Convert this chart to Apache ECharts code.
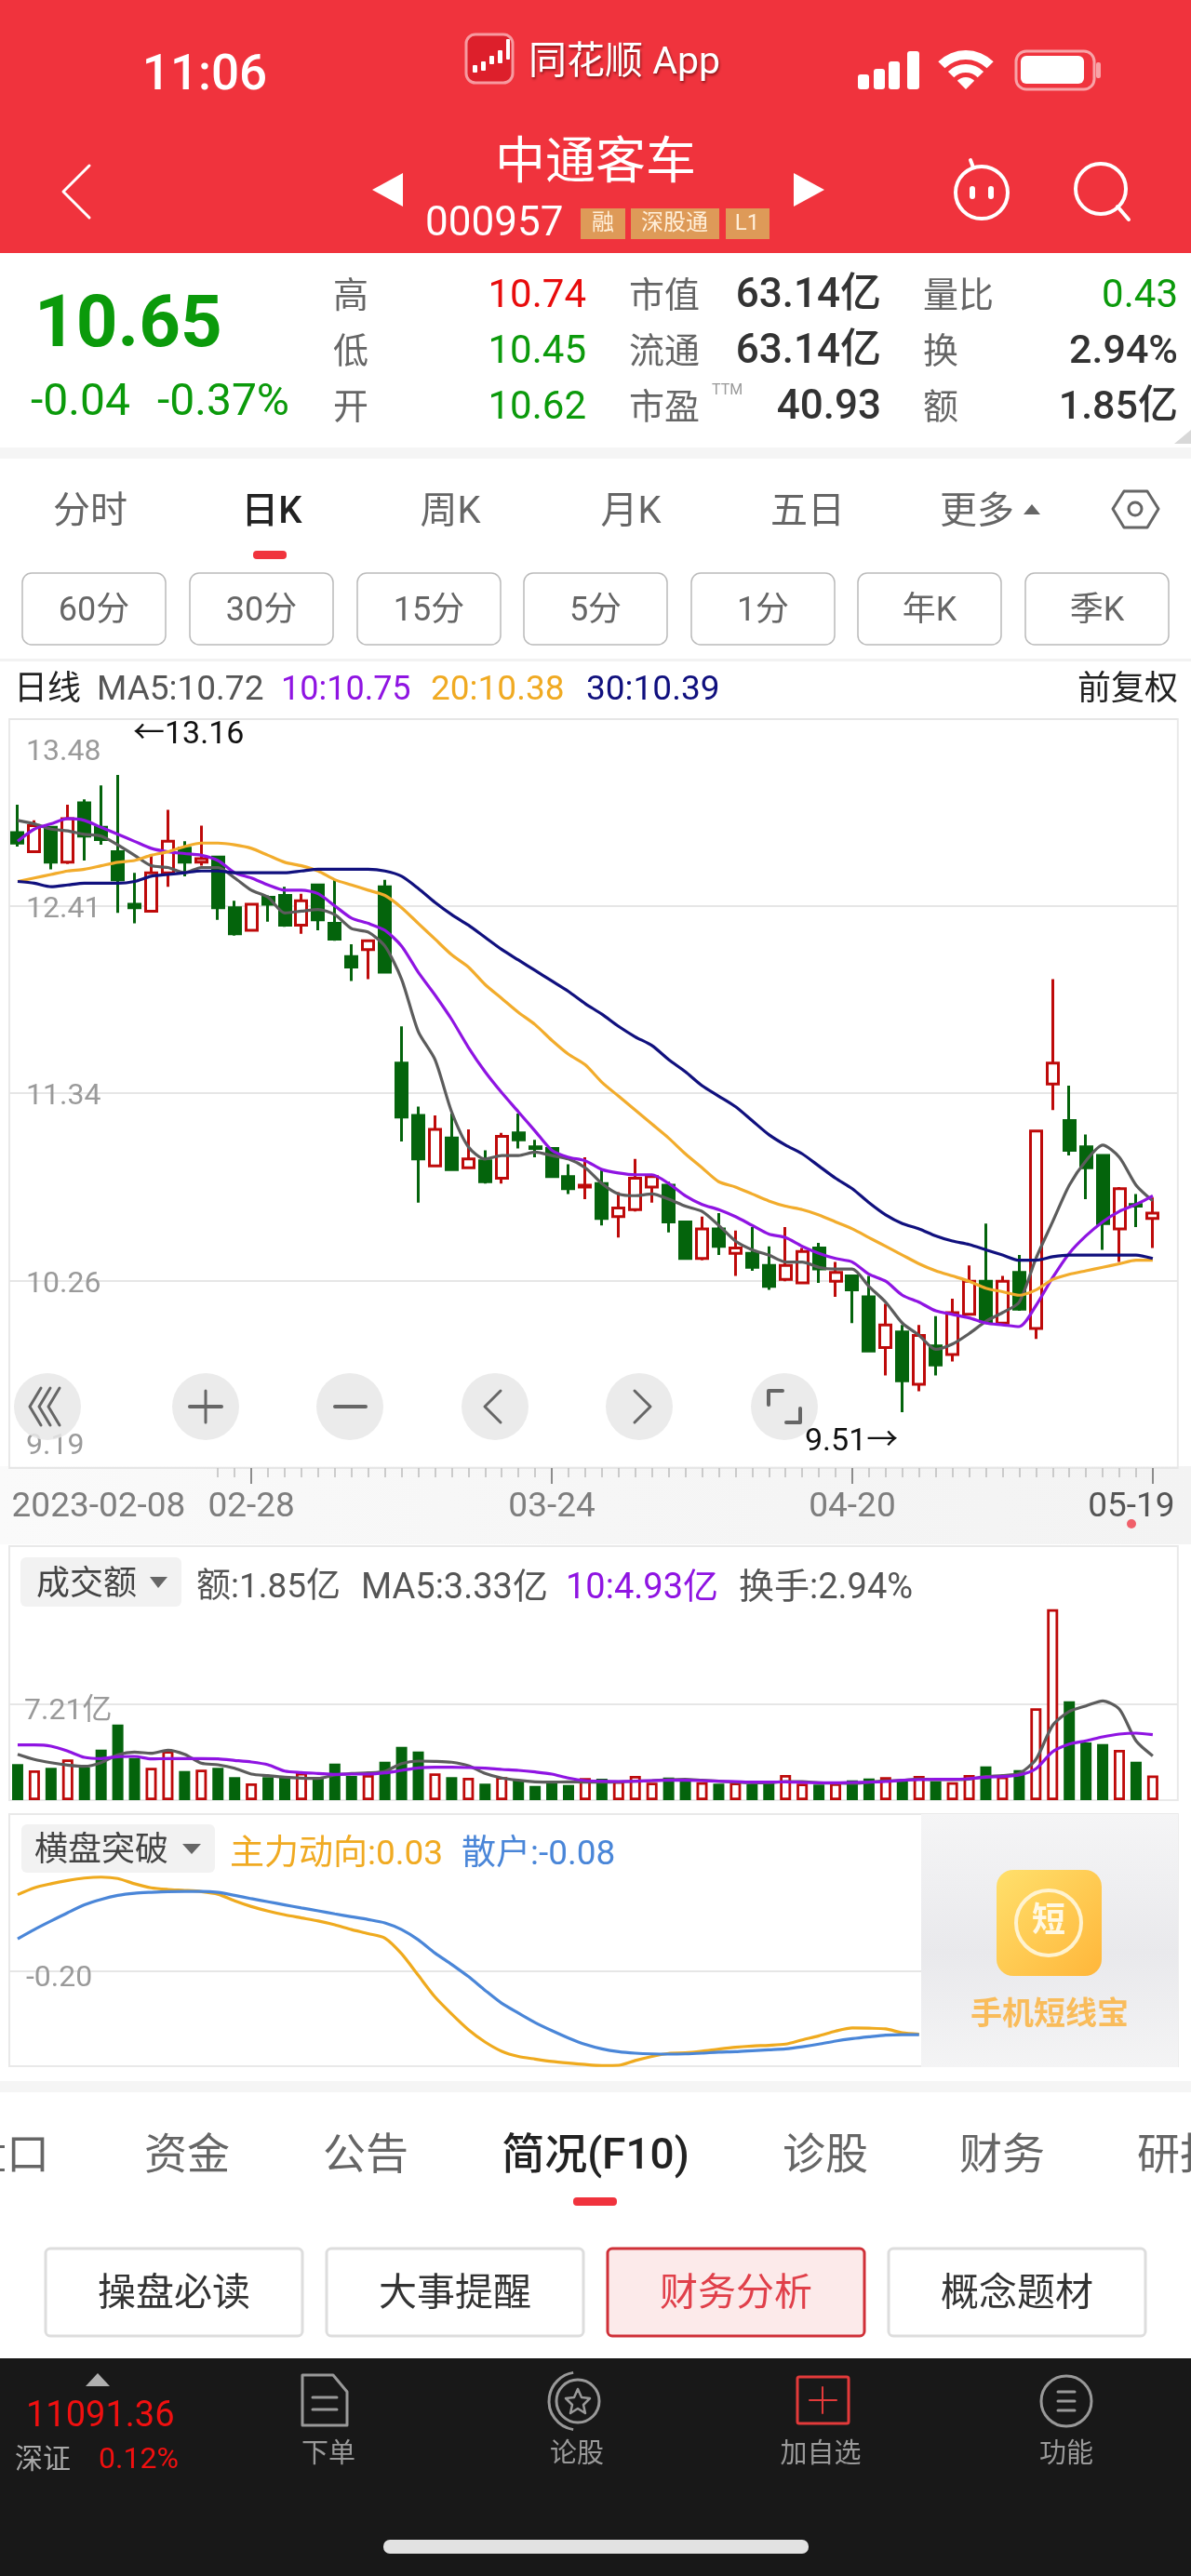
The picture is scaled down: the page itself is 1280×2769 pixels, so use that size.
<!DOCTYPE html>
<html>

<head>
    <meta charset="utf-8" />
    <title>中通客车</title>
    <script src="https://cdn.jsdelivr.net/npm/echarts@6.0.0/dist/echarts.min.js"></script>
    <style>
        html, body { margin: 0; padding: 0; background: #fff; overflow: hidden; }
    </style>
</head>

<body>
    <div id="main" style="width: 1280px;height:2769px;"></div>

    <script type="text/javascript">
        var dates = [
            '2023-02-08', '02-09', '02-10', '02-13', '02-14', '02-15', '02-16', '02-17', '02-20', '02-21', '02-22', '02-23', '02-24', '02-27',
            '02-28', '03-01', '03-02', '03-03', '03-06', '03-07', '03-08', '03-09', '03-10', '03-13', '03-14', '03-15', '03-16', '03-17',
            '03-20', '03-21', '03-22', '03-23', '03-24', '03-27', '03-28', '03-29', '03-30', '03-31', '04-03', '04-04', '04-06', '04-07',
            '04-10', '04-11', '04-12', '04-13', '04-14', '04-17', '04-18', '04-19', '04-20', '04-21', '04-24', '04-25', '04-26', '04-27',
            '04-28', '05-04', '05-05', '05-08', '05-09', '05-10', '05-11', '05-12', '05-15', '05-16', '05-17', '05-18', '05-19', ''
        ];

        // open, close, low, high
        var candles = [
            [12.83, 12.77, 12.75, 12.99], [12.72, 12.87, 12.72, 12.90], [12.86, 12.66, 12.62, 12.86], [12.66, 12.91, 12.65, 12.99],
            [13.00, 12.81, 12.67, 13.02], [12.86, 12.79, 12.76, 13.10], [12.72, 12.56, 12.37, 13.16], [12.42, 12.40, 12.31, 12.60],
            [12.38, 12.60, 12.38, 12.70], [12.60, 12.78, 12.52, 12.96], [12.74, 12.66, 12.58, 12.78], [12.66, 12.68, 12.64, 12.87],
            [12.69, 12.40, 12.33, 12.69], [12.40, 12.25, 12.24, 12.44], [12.27, 12.42, 12.27, 12.42], [12.46, 12.42, 12.32, 12.47],
            [12.47, 12.30, 12.29, 12.52], [12.30, 12.44, 12.25, 12.48], [12.53, 12.33, 12.27, 12.53], [12.31, 12.22, 12.21, 12.56],
            [12.12, 12.06, 11.98, 12.19], [12.16, 12.21, 11.99, 12.21], [12.52, 12.03, 12.03, 12.56], [11.51, 11.20, 11.06, 11.72],
            [11.21, 10.96, 10.71, 11.26], [10.92, 11.13, 10.92, 11.21], [11.08, 10.90, 10.90, 11.22], [10.91, 10.96, 10.91, 11.13],
            [10.95, 10.83, 10.82, 11.01], [10.85, 11.09, 10.82, 11.11], [11.11, 11.07, 11.02, 11.22], [11.03, 11.02, 10.97, 11.07],
            [11.02, 10.86, 10.86, 11.02], [10.86, 10.79, 10.76, 10.93], [10.80, 10.81, 10.73, 10.97], [10.82, 10.62, 10.58, 10.90],
            [10.63, 10.68, 10.51, 10.77], [10.67, 10.85, 10.66, 10.96], [10.80, 10.86, 10.71, 10.87], [10.81, 10.60, 10.54, 10.83],
            [10.60, 10.39, 10.39, 10.60], [10.39, 10.56, 10.38, 10.63], [10.56, 10.46, 10.41, 10.65], [10.42, 10.45, 10.29, 10.55],
            [10.42, 10.34, 10.32, 10.57], [10.35, 10.23, 10.21, 10.46], [10.27, 10.35, 10.26, 10.57], [10.25, 10.43, 10.25, 10.45],
            [10.45, 10.33, 10.25, 10.48], [10.26, 10.31, 10.17, 10.37], [10.29, 10.21, 10.02, 10.29], [10.17, 9.86, 9.86, 10.29],
            [9.88, 10.01, 9.72, 10.13], [9.97, 9.69, 9.51, 10.01], [9.67, 9.95, 9.63, 10.01], [9.89, 9.78, 9.72, 10.06],
            [9.84, 10.08, 9.80, 10.16], [10.07, 10.26, 10.07, 10.35], [10.26, 10.03, 10.03, 10.59], [10.02, 10.26, 10.02, 10.29],
            [10.31, 10.10, 10.09, 10.41], [9.99, 11.12, 9.93, 11.12], [11.39, 11.51, 11.24, 11.99], [11.18, 11.01, 10.98, 11.38],
            [11.03, 10.91, 10.73, 11.10], [10.98, 10.59, 10.44, 10.98], [10.56, 10.79, 10.37, 10.80], [10.70, 10.69, 10.57, 10.76],
            [10.62, 10.65, 10.45, 10.74]
        ];

        var ma5 = [12.90, 12.88, 12.85, 12.84, 12.82, 12.81, 12.76, 12.70, 12.64, 12.63, 12.60, 12.63, 12.63, 12.57, 12.50, 12.46, 12.37, 12.38, 12.39, 12.36, 12.28, 12.26, 12.18, 11.99, 11.69, 11.53, 11.23, 11.03, 10.96, 10.98, 10.98, 11.00, 10.98, 10.96, 10.91, 10.82, 10.76, 10.75, 10.76, 10.73, 10.69, 10.66, 10.58, 10.49, 10.44, 10.41, 10.37, 10.37, 10.34, 10.33, 10.33, 10.23, 10.14, 10.02, 9.95, 9.87, 9.90, 9.96, 10.03, 10.08, 10.14, 10.39, 10.60, 10.81, 10.95, 11.04, 10.97, 10.81, 10.72];
        var ma10 = [12.78, 12.85, 12.88, 12.91, 12.90, 12.86, 12.82, 12.78, 12.74, 12.72, 12.71, 12.70, 12.67, 12.60, 12.57, 12.53, 12.50, 12.50, 12.48, 12.41, 12.34, 12.31, 12.27, 12.18, 12.03, 11.90, 11.76, 11.60, 11.46, 11.34, 11.23, 11.12, 11.01, 10.97, 10.95, 10.90, 10.88, 10.87, 10.87, 10.82, 10.75, 10.70, 10.67, 10.63, 10.58, 10.53, 10.51, 10.46, 10.42, 10.39, 10.37, 10.30, 10.26, 10.18, 10.14, 10.09, 10.07, 10.05, 10.02, 10.01, 10.00, 10.12, 10.28, 10.42, 10.52, 10.60, 10.66, 10.70, 10.75];
        var ma20 = [12.55, 12.57, 12.59, 12.61, 12.62, 12.64, 12.66, 12.67, 12.70, 12.72, 12.75, 12.77, 12.77, 12.76, 12.74, 12.70, 12.66, 12.64, 12.61, 12.56, 12.53, 12.50, 12.47, 12.40, 12.31, 12.22, 12.13, 12.06, 11.96, 11.88, 11.80, 11.73, 11.64, 11.56, 11.50, 11.40, 11.32, 11.24, 11.16, 11.08, 10.99, 10.91, 10.83, 10.80, 10.76, 10.72, 10.69, 10.67, 10.64, 10.60, 10.56, 10.51, 10.46, 10.41, 10.36, 10.32, 10.29, 10.26, 10.22, 10.20, 10.18, 10.21, 10.27, 10.30, 10.32, 10.34, 10.36, 10.38, 10.38];
        var ma30 = [12.55, 12.54, 12.52, 12.53, 12.54, 12.54, 12.54, 12.55, 12.58, 12.59, 12.60, 12.61, 12.61, 12.60, 12.60, 12.60, 12.60, 12.61, 12.62, 12.62, 12.62, 12.62, 12.61, 12.58, 12.51, 12.43, 12.36, 12.30, 12.23, 12.16, 12.10, 12.04, 11.98, 11.92, 11.85, 11.79, 11.72, 11.66, 11.61, 11.53, 11.46, 11.38, 11.32, 11.26, 11.18, 11.10, 11.04, 10.99, 10.92, 10.85, 10.79, 10.71, 10.64, 10.59, 10.56, 10.52, 10.49, 10.47, 10.44, 10.41, 10.38, 10.38, 10.40, 10.41, 10.41, 10.41, 10.41, 10.41, 10.39];

        var amount = [2.71, 2.24, 2.43, 3.06, 2.47, 3.80, 5.69, 3.17, 2.43, 3.69, 2.19, 2.29, 2.43, 1.73, 1.26, 1.73, 1.77, 2.05, 1.66, 2.75, 1.82, 1.89, 2.89, 4.01, 3.66, 2.01, 1.73, 1.68, 1.24, 1.73, 1.49, 1.07, 1.47, 1.14, 1.66, 1.61, 1.42, 1.82, 1.31, 1.70, 1.49, 1.35, 1.24, 1.31, 1.19, 1.31, 1.89, 1.24, 1.17, 1.26, 1.49, 1.63, 1.73, 1.42, 1.82, 1.42, 1.35, 1.89, 2.54, 1.77, 2.26, 6.91, 14.37, 7.44, 4.34, 4.22, 3.78, 2.89, 1.85];
        var amountMa5 = [3.45, 3.06, 2.82, 2.64, 2.54, 2.82, 3.41, 3.62, 3.52, 3.76, 3.45, 2.78, 2.66, 2.40, 1.96, 1.84, 1.73, 1.66, 1.63, 1.89, 2.01, 2.05, 2.17, 2.75, 2.94, 2.92, 2.85, 2.59, 2.01, 1.66, 1.49, 1.38, 1.35, 1.38, 1.35, 1.35, 1.38, 1.42, 1.47, 1.54, 1.56, 1.49, 1.42, 1.35, 1.31, 1.31, 1.40, 1.40, 1.31, 1.28, 1.26, 1.35, 1.45, 1.49, 1.59, 1.54, 1.54, 1.59, 1.77, 1.84, 2.01, 3.06, 5.62, 6.67, 7.09, 7.47, 6.84, 4.46, 3.33];
        var amountMa10 = [4.15, 4.15, 4.06, 3.69, 3.22, 3.13, 3.27, 3.29, 3.10, 3.13, 3.13, 3.13, 3.10, 2.99, 2.87, 2.66, 2.19, 2.08, 2.01, 1.94, 1.96, 1.96, 2.05, 2.24, 2.43, 2.47, 2.47, 2.45, 2.40, 2.31, 2.24, 2.12, 1.96, 1.66, 1.47, 1.42, 1.40, 1.42, 1.47, 1.49, 1.49, 1.47, 1.42, 1.40, 1.35, 1.35, 1.38, 1.33, 1.31, 1.31, 1.33, 1.35, 1.40, 1.49, 1.54, 1.56, 1.56, 1.61, 1.73, 1.77, 1.89, 2.36, 3.64, 4.22, 4.46, 4.76, 4.97, 5.04, 4.93];

        // the rest of these two lines is hidden behind the ad panel
        var mainForce = [0.123, 0.152, 0.169, 0.183, 0.193, 0.197, 0.191, 0.169, 0.152, 0.145, 0.141, 0.136, 0.125, 0.097, 0.073, 0.054, 0.038, 0.025, 0.012, -0.004, -0.024, -0.041, -0.06, -0.126, -0.217, -0.308, -0.38, -0.446, -0.498, -0.537, -0.559, -0.57, -0.58, -0.587, -0.593, -0.597, -0.596, -0.576, -0.559, -0.546, -0.544, -0.537, -0.528, -0.52, -0.515, -0.512, -0.507, -0.489, -0.472, -0.452, -0.439, -0.44, -0.443, -0.459, -0.465];
        var retail = [-0.063, -0.024, 0.012, 0.047, 0.08, 0.103, 0.12, 0.129, 0.133, 0.136, 0.137, 0.137, 0.133, 0.12, 0.106, 0.093, 0.08, 0.067, 0.055, 0.042, 0.03, 0.018, 0.004, -0.024, -0.067, -0.123, -0.171, -0.222, -0.28, -0.335, -0.376, -0.416, -0.45, -0.481, -0.508, -0.527, -0.539, -0.545, -0.548, -0.549, -0.548, -0.545, -0.541, -0.539, -0.535, -0.531, -0.527, -0.518, -0.507, -0.494, -0.484, -0.476, -0.469, -0.467, -0.467];

        var priceTicks = [9.19, 10.26, 11.34, 12.41, 13.48];
        var amountTicks = [7.21];
        var signalTicks = [-0.2];
        var dateLabels = [0, 14, 32, 50, 68];
        var dateMajorTicks = [14, 32, 50, 68];
        var firstMinorTick = 12;
        var lastCandle = 68;

        var RED = '#BE0A0A', GREEN = '#04640C';
        var C_MA5 = '#5C5C5C', C_MA10 = '#8F14E2', C_MA20 = '#F2AC2C', C_MA30 = '#10107E';
        var HEAD = '#F0333D';
        var FONT = 'Roboto, "Noto Sans CJK SC", sans-serif';

        // small helpers for the app chrome around the chart
        var chrome = [];
        function txt(text, x, y, size, color, align, weight, extra) {
            var style = {
                text: text, x: x, y: y + Math.round(size * 0.09), fill: color,
                fontSize: size, fontFamily: FONT, fontWeight: weight || 400,
                align: align || 'left', verticalAlign: 'middle'
            };
            for (var k in (extra || {})) style[k] = extra[k];
            chrome.push({ type: 'text', z: 20, silent: true, style: style });
        }
        function box(x1, y1, x2, y2, fill, r, stroke, lw, z) {
            chrome.push({
                type: 'rect', z: z === undefined ? 19 : z, silent: true,
                shape: { x: x1, y: y1, width: x2 - x1, height: y2 - y1, r: r || 0 },
                style: { fill: fill || 'none', stroke: stroke || 'none', lineWidth: lw || 0 }
            });
        }
        function poly(points, stroke, lw, z) {
            chrome.push({
                type: 'polyline', z: z || 21, silent: true,
                shape: { points: points },
                style: { fill: 'none', stroke: stroke, lineWidth: lw || 3, lineCap: 'round', lineJoin: 'round' }
            });
        }
        function tri(points, fill) {
            chrome.push({ type: 'polygon', z: 21, silent: true, shape: { points: points }, style: { fill: fill } });
        }
        function dot(cx, cy, r, fill, stroke, lw, z) {
            chrome.push({
                type: 'circle', z: z || 20, silent: true,
                shape: { cx: cx, cy: cy, r: r },
                style: { fill: fill || 'none', stroke: stroke || 'none', lineWidth: lw || 0 }
            });
        }
        function wave(cx, cy, r0, r) {
            chrome.push({
                type: 'sector', z: 21, silent: true,
                shape: { cx: cx, cy: cy, r0: r0, r: r, startAngle: -Math.PI * 0.75, endAngle: -Math.PI * 0.25 },
                style: { fill: '#fff' }
            });
        }

        // status + title bar
        box(0, 0, 1280, 272, HEAD, 0, null, 0, 1);
        txt('11:06', 220, 78, 53, '#fff', 'center', 500);
        box(501, 37, 551, 89, '#DD1F2B', 10, '#F79AA0', 3);
        [[508, 70, 5, 8], [517, 66, 5, 10], [526, 60, 5, 9], [535, 54, 5, 14], [544, 42, 4, 22]].forEach(function (c) {
            box(c[0], c[1], c[0] + c[2], c[1] + c[3], '#fff', 1, null, 0, 20);
        });
        txt('同花顺 App', 568, 65, 41, '#fff', 'left', 400, { textShadowColor: 'rgba(60,0,0,.6)', textShadowBlur: 3, textShadowOffsetX: 1, textShadowOffsetY: 2 });
        box(922, 80, 934, 96, '#fff', 3);
        box(939, 74, 951, 96, '#fff', 3);
        box(955, 66, 967, 96, '#fff', 3);
        box(975, 55, 988, 96, '#fff', 3);
        wave(1038, 96, 32, 42);
        wave(1038, 96, 18, 27);
        wave(1038, 96, 0, 13);
        box(1092, 55, 1176, 96, 'none', 11, 'rgba(255,255,255,.55)', 3);
        box(1097, 60, 1165, 90, '#fff', 6);
        box(1178, 67, 1183, 84, 'rgba(255,255,255,.55)', 2);
        txt('中通客车', 640, 173, 54, '#fff', 'center');
        poly([[96, 178], [68, 206], [96, 234]], '#fff', 3);
        tri([[433, 186], [400, 204], [433, 222]], '#fff');
        tri([[853, 186], [886, 204], [853, 222]], '#fff');
        txt('000957', 457, 238, 44, '#fff');
        box(624, 224, 672, 257, '#DE9A58');
        box(678, 224, 773, 257, '#DE9A58');
        box(780, 224, 827, 257, '#DE9A58');
        txt('融', 648, 239, 24, '#FFEFD9', 'center');
        txt('深股通', 725, 239, 24, '#FFEFD9', 'center');
        txt('L1', 803, 239, 24, '#FFEFD9', 'center');
        dot(1055, 207, 28, 'none', '#fff', 4, 21);
        poly([[1046, 180], [1043, 172]], '#fff', 4);
        box(1042, 200, 1048, 214, '#fff', 3, null, 0, 22);
        box(1062, 200, 1068, 214, '#fff', 3, null, 0, 22);
        dot(1183, 203, 27, 'none', '#fff', 4, 21);
        poly([[1201, 222], [1213, 236]], '#fff', 4);

        // quote block
        txt('10.65', 37, 345, 78, '#0B9A0B', 'left', 700);
        txt('-0.04', 33, 430, 48, '#0B9A0B');
        txt('-0.37%', 169, 430, 48, '#0B9A0B');
        var quoteRows = [315, 375, 435];
        ['高', '低', '开'].forEach(function (t, i) { txt(t, 358, quoteRows[i] + 2, 38, '#666'); });
        txt('10.74', 630, quoteRows[0], 42, '#E80C0C', 'right');
        txt('10.45', 630, quoteRows[1], 42, '#0B9A0B', 'right');
        txt('10.62', 630, quoteRows[2], 42, '#0B9A0B', 'right');
        ['市值', '流通', '市盈'].forEach(function (t, i) { txt(t, 676, quoteRows[i] + 2, 38, '#666'); });
        txt('TTM', 765, 419, 16, '#999');
        ['63.14亿', '63.14亿', '40.93'].forEach(function (t, i) { txt(t, 947, quoteRows[i], 44, '#333', 'right', 500); });
        ['量比', '换', '额'].forEach(function (t, i) { txt(t, 992, quoteRows[i] + 2, 38, '#666'); });
        txt('0.43', 1266, quoteRows[0], 42, '#0B9A0B', 'right');
        txt('2.94%', 1266, quoteRows[1], 43, '#333', 'right', 500);
        txt('1.85亿', 1266, quoteRows[2], 43, '#333', 'right', 500);
        tri([[1280, 462], [1262, 477], [1280, 477]], '#D8D8D8');
        box(0, 481, 1280, 493, '#F5F5F5');

        // period tabs
        [['分时', 97], ['日K', 292], ['周K', 484], ['月K', 678], ['五日', 868], ['更多', 1050]].forEach(function (t) {
            var on = t[0] === '日K';
            txt(t[0], t[1], 548, 40, on ? '#222' : '#666', 'center', on ? 500 : 400);
        });
        tri([[1100, 553], [1109, 542], [1118, 553]], '#666');
        poly([[1208, 528], [1233, 528], [1245, 547], [1233, 567], [1208, 567], [1196, 547], [1208, 528]], '#666', 3);
        dot(1220, 547, 7, 'none', '#666', 3, 21);
        box(272, 592, 308, 601, HEAD, 4);
        [['60分', 24], ['30分', 204], ['15分', 384], ['5分', 563], ['1分', 743], ['年K', 922], ['季K', 1102]].forEach(function (t) {
            box(t[1], 616, t[1] + 154, 693, '#fff', 10, '#BBB', 1.5);
            txt(t[0], t[1] + 77, 655, 36, '#666', 'center');
        });
        box(0, 708, 1280, 711, '#F2F2F2');

        // legend row
        txt('日线', 15, 740, 36, '#222');
        txt('MA5:10.72', 104, 740, 37, '#555');
        txt('10:10.75', 302, 740, 36, C_MA10);
        txt('20:10.38', 463, 740, 37, '#F0AA22');
        txt('30:10.39', 630, 740, 37, C_MA30);
        txt('前复权', 1266, 740, 36, '#222', 'right');

        // price panel notes and the round control buttons
        txt('←13.16', 143, 787, 34, '#111');
        txt('9.51→', 865, 1547, 34, '#111');
        [51, 221, 376, 532, 687, 843].forEach(function (x) { dot(x, 1512, 36, 'rgba(232,232,232,.85)', null, 0, 18); });
        poly([[44, 1492], [32, 1512], [44, 1532]], '#666', 3);
        poly([[54, 1492], [42, 1512], [54, 1532]], '#666', 3);
        poly([[64, 1492], [52, 1512], [64, 1532]], '#666', 3);
        poly([[204, 1512], [238, 1512]], '#666', 4);
        poly([[221, 1495], [221, 1529]], '#666', 3);
        poly([[360, 1512], [393, 1512]], '#666', 4);
        poly([[538, 1495], [521, 1512], [538, 1529]], '#666', 3);
        poly([[682, 1495], [699, 1512], [682, 1529]], '#666', 3);
        poly([[826, 1510], [826, 1495], [841, 1495]], '#666', 4);
        poly([[860, 1514], [860, 1529], [845, 1529]], '#666', 4);

        // date strip background
        chrome.push({
            type: 'rect', z: -1, silent: true,
            shape: { x: 0, y: 1576, width: 1280, height: 84 },
            style: { fill: new echarts.graphic.LinearGradient(0, 0, 1, 0, [
                { offset: 0, color: '#FAFAFA' }, { offset: 0.5, color: '#F6F6F6' }, { offset: 1, color: '#F3F3F3' }
            ]) }
        });
        dot(1216, 1638, 5, '#F0606A', null, 0, 21);

        // amount panel header
        box(22, 1674, 195, 1727, '#F2F2F2', 6);
        txt('成交额', 39, 1702, 36, '#444');
        tri([[161, 1695], [180, 1695], [170, 1707]], '#666');
        txt('额:1.85亿', 211, 1705, 37, '#555');
        txt('MA5:3.33亿', 388, 1705, 38, '#555');
        txt('10:4.93亿', 608, 1705, 38, C_MA10);
        txt('换手:2.94%', 794, 1705, 38, '#555');

        // signal panel header
        box(23, 1961, 231, 2013, '#F2F2F2', 6);
        txt('横盘突破', 37, 1988, 36, '#444');
        tri([[196, 1982], [216, 1982], [206, 1993]], '#666');
        txt('主力动向:0.03', 247, 1992, 37, '#F0AA22');
        txt('散户:-0.08', 496, 1992, 37, '#4A86D8');

        // ad panel that covers the right of the signal panel
        chrome.push({
            type: 'rect', z: 18, silent: true,
            shape: { x: 990, y: 1950, width: 276, height: 272 },
            style: { fill: new echarts.graphic.LinearGradient(0, 0, 0, 1, [
                { offset: 0, color: '#F5F5F6' }, { offset: 0.55, color: '#E9E9EC' }, { offset: 1, color: '#F4F4F5' }
            ]) }
        });
        chrome.push({
            type: 'rect', z: 19, silent: true,
            shape: { x: 1071, y: 2010, width: 113, height: 114, r: 18 },
            style: { fill: new echarts.graphic.LinearGradient(0, 0, 1, 1, [
                { offset: 0, color: '#FFE06C' }, { offset: 1, color: '#FFB63A' }
            ]) }
        });
        dot(1127, 2067, 35, 'none', '#FFF3D0', 4, 20);
        txt('短', 1127, 2064, 36, '#FFF8E4', 'center', 700);
        txt('手机短线宝', 1128, 2164, 34, '#F9BC5B', 'center', 700);

        // lower tabs and buttons
        box(0, 2237, 1280, 2249, '#F5F5F5');
        txt('盘口', 53, 2315, 46, '#666', 'right');
        [['资金', 201], ['公告', 393], ['诊股', 887], ['财务', 1077], ['研报', 1268]].forEach(function (t) {
            txt(t[0], t[1], 2315, 46, '#666', 'center');
        });
        txt('简况(F10)', 640, 2315, 46, '#222', 'center', 500);
        box(616, 2362, 663, 2371, HEAD, 4);
        [['操盘必读', 49], ['大事提醒', 351], ['财务分析', 653], ['概念题材', 955]].forEach(function (t) {
            var on = t[0] === '财务分析';
            box(t[1], 2417, t[1] + 276, 2511, on ? '#FCEAEA' : '#fff', 5, on ? '#CF3038' : '#DDD', 3);
            txt(t[0], t[1] + 138, 2464, 41, on ? '#E0404A' : '#333', 'center');
        });

        // bottom bar
        box(0, 2535, 1280, 2769, '#181818', 0, null, 0, 1);
        tri([[92, 2565], [105, 2551], [118, 2565]], '#B0B0B0');
        txt('11091.36', 28, 2595, 38, '#F01010');
        txt('深证', 16, 2642, 30, '#A8A8A8');
        txt('0.12%', 106, 2642, 32, '#F01010');
        poly([[325, 2553], [358, 2553], [373, 2571], [373, 2607], [325, 2607], [325, 2553]], '#999', 3);
        poly([[336, 2577], [362, 2577]], '#999', 3);
        poly([[336, 2590], [362, 2590]], '#999', 3);
        dot(621, 2581, 23, 'none', '#999', 3, 21);
        chrome.push({
            type: 'arc', z: 21, silent: true,
            shape: { cx: 621, cy: 2581, r: 31, startAngle: Math.PI * 0.55, endAngle: Math.PI * 1.45, clockwise: true },
            style: { fill: 'none', stroke: '#999', lineWidth: 3 }
        });
        poly([[621, 2568], [625, 2577], [634, 2578], [627, 2585], [629, 2594], [621, 2589], [613, 2594], [615, 2585], [608, 2578], [617, 2577], [621, 2568]], '#999', 2.5);
        box(857, 2555, 912, 2605, 'none', 2, '#E33A3A', 3);
        poly([[870, 2580], [899, 2580]], '#E33A3A', 2);
        poly([[884, 2566], [884, 2594]], '#E33A3A', 2);
        dot(1146, 2581, 27, 'none', '#999', 3, 21);
        poly([[1137, 2571], [1155, 2571]], '#999', 3);
        poly([[1137, 2581], [1155, 2581]], '#999', 3);
        poly([[1137, 2591], [1155, 2591]], '#999', 3);
        [['下单', 353], ['论股', 620], ['加自选', 882], ['功能', 1146]].forEach(function (t) {
            txt(t[0], t[1], 2637, 29, '#999', 'center');
        });
        box(412, 2730, 869, 2745, '#E2E2E2', 7, null, 0, 21);

        function isUp(i) {
            return candles[i][1] >= candles[i][0];
        }

        var amountBars = amount.map(function (v, i) {
            return {
                value: v,
                itemStyle: isUp(i)
                    ? { color: '#fff', borderColor: RED, borderWidth: 2.8 }
                    : { color: GREEN, borderColor: GREEN, borderWidth: 0 }
            };
        });

        function priceLabel(v) {
            if (v === priceTicks[priceTicks.length - 1]) return '{top|' + v.toFixed(2) + '}';
            if (v === priceTicks[0]) return '{bottom|' + v.toFixed(2) + '}';
            return v.toFixed(2);
        }

        function dateLabel(v, i) {
            if (i === 0) return '{first|' + v + '}';
            if (i === lastCandle) return '{last|' + v + '}';
            return v;
        }

        function lineSeries(name, data, color, xIndex, yIndex, width) {
            return {
                name: name, type: 'line', data: data, xAxisIndex: xIndex, yAxisIndex: yIndex,
                symbol: 'none', smooth: 0.25, silent: true, z: 5,
                lineStyle: { color: color, width: width || 3.2 }
            };
        }

        // bands are 17.94 px wide, 70 of them fill each panel; the last one stays empty
        var panel = { left: 10, width: 1255.8 };
        function grid(top, height) {
            return {
                show: true, left: panel.left, width: panel.width, top: top, height: height,
                borderColor: '#E9E9E9', borderWidth: 2, backgroundColor: 'transparent'
            };
        }
        function hiddenX(gridIndex) {
            return {
                type: 'category', gridIndex: gridIndex, data: dates,
                axisLine: { show: false }, axisTick: { show: false }, axisLabel: { show: false }, splitLine: { show: false }
            };
        }
        function valueY(gridIndex, min, max, ticks, formatter, margin, rich) {
            return {
                type: 'value', gridIndex: gridIndex, min: min, max: max, scale: true,
                axisLine: { show: false },
                axisTick: { show: false, customValues: ticks },
                splitLine: { show: true, lineStyle: { color: '#E6E6E6', width: 2 } },
                axisLabel: {
                    inside: true, margin: margin || 18, customValues: ticks, formatter: formatter,
                    color: '#9A9A9A', fontSize: 32, fontFamily: FONT, rich: rich, padding: [8, 0, 0, 0]
                }
            };
        }
        var lowLabel = { low: { color: '#9A9A9A', fontSize: 32, fontFamily: FONT, padding: [8, 0, 0, 0] } };

        var myChart = echarts.init(document.getElementById('main'));

        var option = {
            animation: false,
            backgroundColor: '#fff',
            graphic: chrome,
            grid: [grid(773, 805), grid(1662, 273), grid(1950, 271)],
            xAxis: [
                {
                    // minor ticks of the date strip
                    type: 'category', gridIndex: 0, data: dates, position: 'bottom',
                    axisLine: { show: false },
                    axisTick: {
                        show: true, alignWithLabel: true, length: 10, lineStyle: { color: '#BDBDBD', width: 1.5 },
                        interval: function (i) { return i >= firstMinorTick && i <= lastCandle; }
                    },
                    axisLabel: { show: false }, splitLine: { show: false }
                },
                {
                    // major ticks and date labels
                    type: 'category', gridIndex: 0, data: dates, position: 'bottom',
                    axisLine: { show: false },
                    axisTick: {
                        show: true, alignWithLabel: true, length: 17, lineStyle: { color: '#8C8C8C', width: 2 },
                        interval: function (i) { return dateMajorTicks.indexOf(i) >= 0; }
                    },
                    axisLabel: {
                        margin: 24, color: '#7E7E7E', fontSize: 37, fontFamily: FONT,
                        interval: function (i) { return dateLabels.indexOf(i) >= 0; },
                        formatter: dateLabel,
                        rich: {
                            first: { color: '#7E7E7E', fontSize: 37, fontFamily: FONT, padding: [0, 0, 0, 174] },
                            last: { color: '#555', fontSize: 37, fontFamily: FONT, padding: [0, 46, 0, 0] }
                        }
                    },
                    splitLine: { show: false }
                },
                hiddenX(1),
                hiddenX(2)
            ],
            yAxis: [
                valueY(0, 9.19, 13.48, priceTicks, priceLabel, 18, {
                    top: { color: '#9A9A9A', fontSize: 32, fontFamily: FONT, padding: [64, 0, 0, 0] },
                    bottom: { color: '#9A9A9A', fontSize: 32, fontFamily: FONT, padding: [0, 0, 54, 0] }
                }),
                valueY(1, 0, 19.11, amountTicks, function (v) { return '{low|' + v.toFixed(2) + '亿}'; }, 16, lowLabel),
                valueY(2, -0.6, 0.4626, signalTicks, function (v) { return '{low|' + v.toFixed(2) + '}'; }, 18, lowLabel)
            ],
            series: [
                {
                    name: '日K', type: 'candlestick', data: candles, xAxisIndex: 0, yAxisIndex: 0,
                    barWidth: 12.5, silent: true, z: 3,
                    itemStyle: { color: '#fff', color0: GREEN, borderColor: RED, borderColor0: GREEN, borderWidth: 3 }
                },
                lineSeries('MA5', ma5, C_MA5, 0, 0),
                lineSeries('MA10', ma10, C_MA10, 0, 0),
                lineSeries('MA20', ma20, C_MA20, 0, 0),
                lineSeries('MA30', ma30, C_MA30, 0, 0),
                {
                    name: '成交额', type: 'bar', data: amountBars, xAxisIndex: 2, yAxisIndex: 1,
                    barWidth: 12, silent: true, z: 3
                },
                lineSeries('额MA5', amountMa5, C_MA5, 2, 1),
                lineSeries('额MA10', amountMa10, C_MA10, 2, 1),
                lineSeries('主力动向', mainForce, '#EFAA1E', 3, 2),
                lineSeries('散户', retail, '#4A86D8', 3, 2)
            ]
        };

        myChart.setOption(option);
    </script>
</body>

</html>
